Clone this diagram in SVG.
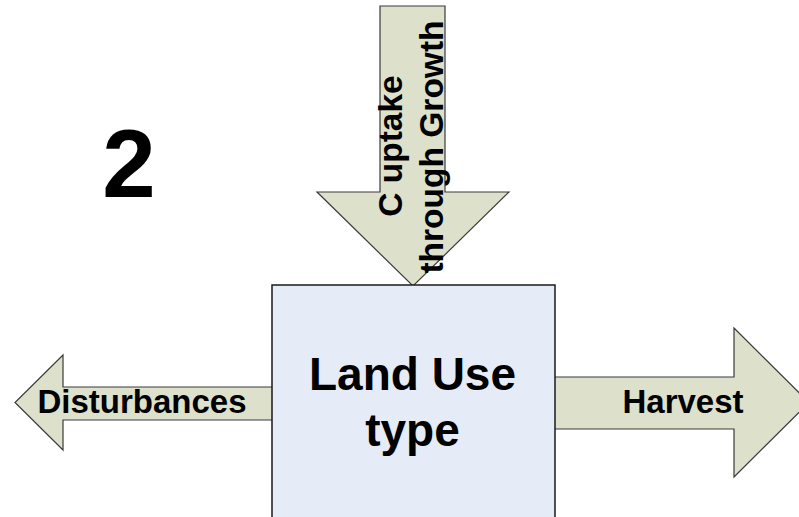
<svg xmlns="http://www.w3.org/2000/svg" width="799" height="517" viewBox="0 0 799 517">
  <style>
    .arrow { fill: #dde0cb; stroke: #3a3a3a; stroke-width: 1.2; stroke-linejoin: miter; }
    .box { fill: #e5ebf7; stroke: #1a1a1a; stroke-width: 1.5; }
    .lbl { font-family: "Liberation Sans", Arial, sans-serif; font-weight: bold; fill: #000; text-anchor: middle; }
  </style>
  <rect width="799" height="517" fill="#ffffff"/>
  <g id="connectors">
    <g id="uptake-arrow">
      <polygon class="arrow" points="380,6 445,6 445,192 509,192 413,286 317,192 380,192"/>
      <text class="lbl" font-size="33.5" transform="translate(401.5,146) rotate(-90)">C uptake</text>
      <text class="lbl" font-size="33.5" transform="translate(442.5,147) rotate(-90)">through Growth</text>
    </g>
    <g id="disturbances-arrow">
      <polygon class="arrow" points="273,387 63,387 63,355 15,402.5 63,450 63,420 273,420"/>
      <text class="lbl" font-size="33" x="142" y="413">Disturbances</text>
    </g>
    <g id="harvest-arrow">
      <polygon class="arrow" points="554,377 734,377 734,328 809,402.5 734,477 734,429 554,429"/>
      <text class="lbl" font-size="33" x="683" y="413">Harvest</text>
    </g>
  </g>
  <g id="land-use">
    <rect class="box" x="272" y="285" width="283" height="250"/>
    <text class="lbl" font-size="46" x="412.5" y="390">Land Use</text>
    <text class="lbl" font-size="46" x="412.5" y="446">type</text>
  </g>
  <g id="label-2">
    <text class="lbl" font-size="96" x="129" y="197">2</text>
  </g>
</svg>
